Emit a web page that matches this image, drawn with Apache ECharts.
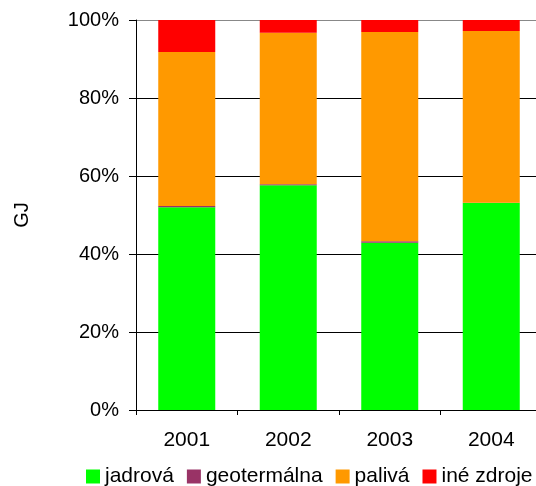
<!DOCTYPE html>
<html>
<head>
<meta charset="utf-8">
<script src="https://cdn.jsdelivr.net/npm/echarts@6/dist/echarts.min.js"></script>
<style>
  html, body { margin: 0; padding: 0; background: #fff; }
  #chart { width: 536px; height: 486px; }
</style>
</head>
<body>
<div id="chart"></div>
<script>
const years = ["2001", "2002", "2003", "2004"];
// podiely v % (odčítané z obrázka)
const jadrova = [52.0, 57.6, 42.9, 53.1];
const geotermalna = [0.3, 0.3, 0.4, 0.05];
const paliva = [39.5, 38.8, 53.6, 44.05];
const ineZdroje = [8.2, 3.3, 3.1, 2.8];

const chart = echarts.init(document.getElementById("chart"));
const font = "Liberation Sans, Arial, sans-serif";

function barSeries(name, values, color) {
  return {
    name: name,
    type: "bar",
    stack: "total",
    data: values,
    barWidth: 57,
    itemStyle: { color: color },
  };
}

chart.setOption({
  animation: false,
  textStyle: { fontFamily: font },
  // plocha grafu presahuje pravý okraj obrázka
  grid: { left: 136, width: 406, top: 20, bottom: 76, outerBoundsMode: "none", containLabel: false },
  legend: {
    top: 466,
    left: 86,
    padding: 0,
    itemWidth: 14,
    itemHeight: 14,
    itemGap: 13,
    icon: "rect",
    textStyle: { fontSize: 21, color: "#000", fontFamily: font },
    data: ["jadrová", "geotermálna", "palivá", "iné zdroje"],
  },
  xAxis: {
    type: "category",
    data: years,
    axisLine: { lineStyle: { color: "#000" } },
    axisTick: { show: true, length: 5, lineStyle: { color: "#000" } },
    axisLabel: { color: "#000", fontSize: 21, margin: 20 },
  },
  yAxis: {
    type: "value",
    min: 0,
    max: 100,
    interval: 20,
    name: "GJ",
    nameLocation: "middle",
    nameGap: 104,
    nameTextStyle: { fontSize: 20, color: "#000" },
    axisLine: { show: true, lineStyle: { color: "#000" } },
    axisTick: { show: true, length: 7, lineStyle: { color: "#000" } },
    axisLabel: { color: "#000", fontSize: 20, margin: 17, formatter: "{value}%" },
    splitLine: {
      lineStyle: { color: ["#000", "#000", "#000", "#000", "#000", "#888"], width: 1 },
    },
  },
  series: [
    barSeries("jadrová", jadrova, "#00ff00"),
    barSeries("geotermálna", geotermalna, "#993366"),
    barSeries("palivá", paliva, "#ff9900"),
    barSeries("iné zdroje", ineZdroje, "#ff0000"),
  ],
});
</script>
</body>
</html>
